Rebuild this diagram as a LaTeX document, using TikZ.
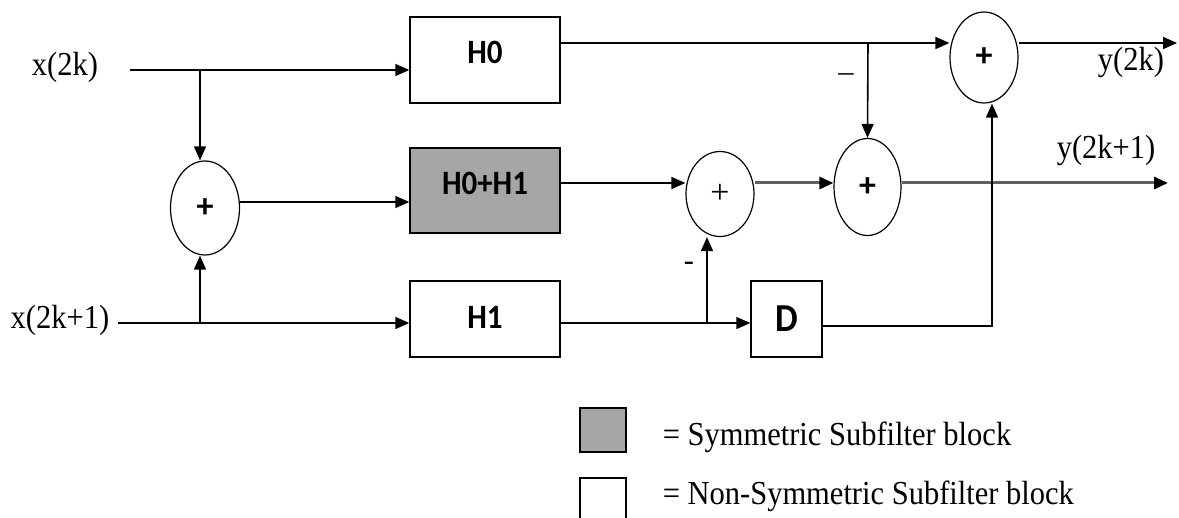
\documentclass[tikz,border=0pt]{standalone}
\usepackage{fontspec}
\setmainfont{Liberation Serif}
\newfontfamily\blkfont{Carlito}
\usetikzlibrary{arrows.meta,shapes.geometric,calc}
\definecolor{symgray}{HTML}{A6A6A6}
\newcommand{\tallt}[1]{\scalebox{1}[1.1]{#1}}
\begin{document}
\begin{tikzpicture}[x=1pt,y=-1pt,
  line width=1.6pt,
  arr/.style={-{Triangle[length=14pt,width=12pt,color=black]}},
  blockbox/.style={draw,line width=1.4pt,inner sep=0pt},
  boxtext/.style={font=\blkfont\bfseries\fontsize{31}{34}\selectfont,inner sep=0pt},
  sumnode/.style={draw,ellipse,line width=1.2pt,inner sep=0pt},
  bplus/.style={font=\blkfont\bfseries\fontsize{34}{36}\selectfont},
  lbl/.style={font=\fontsize{30.5}{34}\selectfont,inner sep=0pt},
  gline/.style={draw=gray!75!black,line width=3pt}
]
\useasboundingbox (0,0) rectangle (1179,518);

% blocks
\node[blockbox,minimum width=150pt,minimum height=86pt] (h0) at (485,60) {};
\node[boxtext] (h0t) at (485,52) {\tallt{H0}};
\node[blockbox,fill=symgray,minimum width=150pt,minimum height=85pt] (h01) at (485,190.5) {};
\node[boxtext] (h01t) at (485,183) {\tallt{H0+H1}};
\node[blockbox,minimum width=150pt,minimum height=76pt] (h1) at (485,319) {};
\node[boxtext] (h1t) at (485,317) {\tallt{H1}};
\node[blockbox,minimum width=71pt,minimum height=76pt,font=\blkfont\bfseries\fontsize{36}{40}\selectfont] (d) at (786.5,319) {\tallt{D}};

% adders
\node[sumnode,minimum width=69pt,minimum height=94pt,bplus] (sum1) at (205,208) {+};
\node[sumnode,minimum width=68pt,minimum height=85pt,font=\fontsize{34}{36}\selectfont] (sum1b) at (720,194) {+};
\node[sumnode,minimum width=67pt,minimum height=97pt,bplus] (sum2) at (867.5,187) {+};
\node[sumnode,minimum width=68pt,minimum height=91pt,bplus] (sum3) at (984,57.5) {+};

% labels
\node[lbl] (lx0) at (65,67) {\tallt{x(2k)}};
\node[lbl] (lx1) at (60,320) {\tallt{x(2k+1)}};
\node[lbl] (ly0) at (1131,62) {\tallt{y(2k)}};
\node[lbl] (ly1) at (1106,150) {\tallt{y(2k+1)}};
\node[lbl] (m1) at (846,78) {–};
\node[lbl] (m2) at (689,266) {-};

% coordinates
\coordinate (xin0) at (130,70);
\coordinate (xin1) at (118,323);
\coordinate (br0) at (200,70);
\coordinate (br1) at (200,323);
\coordinate (brA) at (868,43);
\coordinate (brB) at (707,323);
\coordinate (dcorner) at (992,326);
\coordinate (y0) at (1177,43);
\coordinate (y1) at (1168,183);
\coordinate (mid1) at (0,202);
\coordinate (mid2) at (0,183);

% connectors
\draw[arr] (xin0) -- (h0.west |- xin0);
\draw[arr] (br0) -- (br0 |- sum1.north);
\draw[arr] (xin1) -- (h1.west |- xin1);
\draw[arr] (br1) -- (br1 |- sum1.south);
\draw[arr] (sum1.east |- mid1) -- (h01.west |- mid1);
\draw[arr] (h0.east |- brA) -- (sum3.west |- brA);
\draw[arr] (brA) -- (sum2.north);
\draw[arr] (sum3.east |- y0) -- (y0);
\draw[arr] (h01.east |- mid2) -- (sum1b.west |- mid2);
\draw[arr,gline] (sum1b.east |- mid2) -- (sum2.west |- mid2);
\draw[arr,gline] (sum2.east |- y1) -- (y1);
\draw[arr] (h1.east |- brB) -- (d.west |- brB);
\draw[arr] (brB) -- (brB |- sum1b.south);
\draw[arr] (d.east |- dcorner) -- (dcorner) -- (dcorner |- sum3.south);

% legend
\node[blockbox,fill=symgray,minimum width=46pt,minimum height=44pt] (legsym) at (603,430) {};
\draw[line width=1.4pt] (580,520) -- (580,478) -- (626,478) -- (626,520);
\node[lbl,anchor=west] (legt1) at (662,437) {\tallt{= Symmetric Subfilter block}};
\node[lbl,anchor=west] (legt2) at (662,496) {\tallt{= Non-Symmetric Subfilter block}};
\end{tikzpicture}
\end{document}
